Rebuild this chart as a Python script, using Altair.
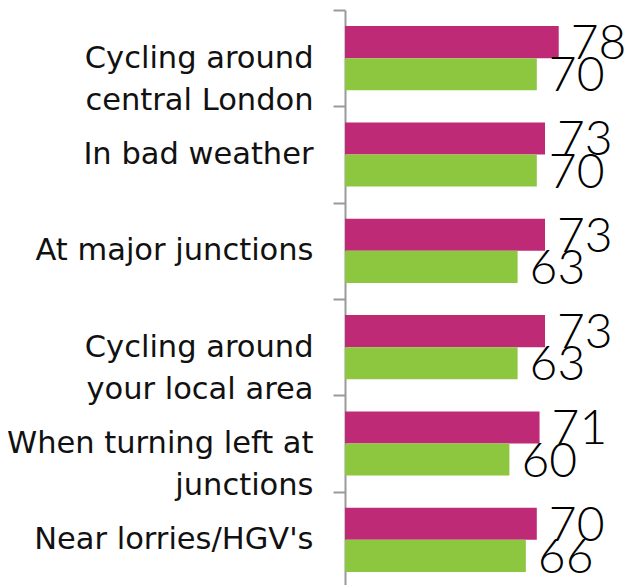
import altair as alt
import pandas as pd

categories = [
    "Cycling around|central London",
    "In bad weather",
    "At major junctions",
    "Cycling around|your local area",
    "When turning left at|junctions",
    "Near lorries/HGV's",
]
series_names = ["Series A", "Series B"]
series_a = [78, 73, 73, 73, 71, 70]
series_b = [70, 70, 63, 63, 60, 66]
colors = ["#BE2A76", "#8DC63F"]

rows = []
for c, a, b in zip(categories, series_a, series_b):
    rows.append({"category": c, "series": series_names[0], "value": a})
    rows.append({"category": c, "series": series_names[1], "value": b})
df = pd.DataFrame(rows)

y_scale = alt.Scale(paddingInner=0, paddingOuter=0, range=[0, 578])
y_enc = alt.Y(
    "category:N",
    sort=categories,
    scale=y_scale,
    axis=alt.Axis(
        title=None,
        labelExpr="split(datum.label, '|')",
        labelFont="DejaVu Sans",
        labelFontSize=30.5,
        labelColor="#111111",
        labelLineHeight=42,
        labelPadding=20,
        labelLimit=400,
        tickBand="extent",
        tickSize=12,
        tickColor="#9a9a9a",
        domainColor="#9a9a9a",
        tickWidth=2,
        domainWidth=2,
        grid=False,
    ),
)
yoff = alt.YOffset(
    "series:N",
    sort=series_names,
    scale=alt.Scale(paddingInner=0, paddingOuter=0.5),
)
x_enc = alt.X("value:Q", scale=alt.Scale(domain=[0, 100], range=[0, 274]), axis=None)

bars = alt.Chart(df).mark_bar().encode(
    y=y_enc,
    yOffset=yoff,
    x=x_enc,
    color=alt.Color("series:N", sort=series_names,
                    scale=alt.Scale(domain=series_names, range=colors), legend=None),
)
labels = alt.Chart(df).mark_text(
    align="left", baseline="middle", dx=12, dy=3,
    font="Lato", fontSize=48, fontWeight=300, color="#000000",
).encode(
    y=alt.Y("category:N", sort=categories),
    yOffset=yoff,
    x=x_enc,
    text="value:Q",
)

chart = alt.layer(bars, labels).properties(
    width=274,
    height=576,
    autosize=alt.AutoSizeParams(type="none"),
    padding={"left": 337, "top": 2, "right": 8, "bottom": 0},
).configure_view(stroke=None)

chart.save("out.html", embed_options={"renderer": "svg", "actions": False})
